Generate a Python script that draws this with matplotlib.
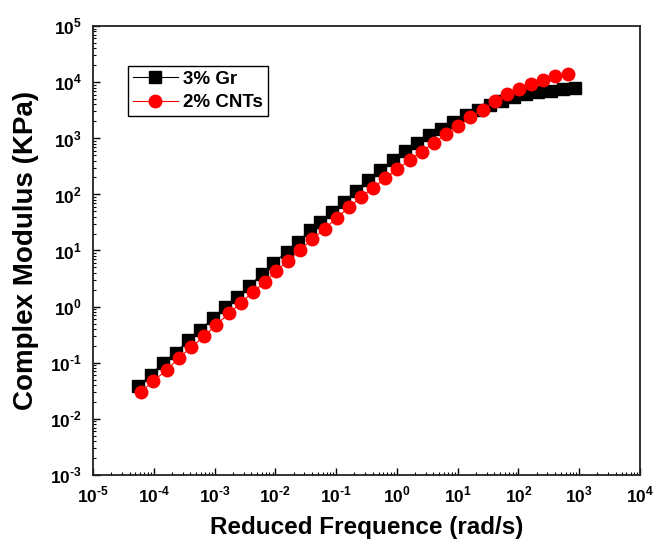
import numpy as np
import matplotlib
matplotlib.use('Agg')
import matplotlib.pyplot as plt
from matplotlib.ticker import LogLocator, NullFormatter, FuncFormatter

plt.rcParams['font.family'] = ['Liberation Sans', 'DejaVu Sans']
plt.rcParams['font.weight'] = 'bold'
plt.rcParams['mathtext.fontset'] = 'custom'
plt.rcParams['mathtext.rm'] = 'Liberation Sans:bold'
plt.rcParams['mathtext.bf'] = 'Liberation Sans:bold'

# values (log10 of frequency / modulus)
gr_logx = [-4.26, -4.05, -3.85, -3.64, -3.44, -3.24, -3.03, -2.83, -2.63, -2.43,
           -2.22, -2.04, -1.81, -1.63, -1.43, -1.27, -1.07, -0.87, -0.67, -0.47,
           -0.27, -0.07, 0.13, 0.33, 0.53, 0.73, 0.93, 1.13, 1.33, 1.53,
           1.73, 1.93, 2.13, 2.33, 2.53, 2.73, 2.93]
gr_logy = [-1.42, -1.22, -1.00, -0.83, -0.60, -0.42, -0.21, -0.01, 0.17, 0.37,
           0.58, 0.78, 0.97, 1.15, 1.36, 1.51, 1.68, 1.87, 2.06, 2.25,
           2.43, 2.61, 2.77, 2.92, 3.05, 3.17, 3.29, 3.41, 3.51, 3.60,
           3.67, 3.73, 3.79, 3.82, 3.85, 3.87, 3.89]

cnt_logx = [-4.21, -4.01, -3.79, -3.59, -3.38, -3.17, -2.98, -2.76, -2.57, -2.37,
            -2.17, -1.99, -1.79, -1.59, -1.39, -1.19, -0.99, -0.79, -0.59, -0.39,
            -0.19, 0.01, 0.21, 0.41, 0.61, 0.81, 1.01, 1.21, 1.41, 1.61,
            1.81, 2.01, 2.21, 2.41, 2.61, 2.81]
cnt_logy = [-1.52, -1.33, -1.13, -0.92, -0.72, -0.53, -0.33, -0.12, 0.06, 0.26,
            0.44, 0.63, 0.82, 1.01, 1.20, 1.39, 1.58, 1.77, 1.95, 2.12,
            2.29, 2.45, 2.61, 2.76, 2.92, 3.07, 3.22, 3.37, 3.51, 3.66,
            3.78, 3.88, 3.96, 4.04, 4.10, 4.15]

gr_x, gr_y = 10 ** np.array(gr_logx), 10 ** np.array(gr_logy)
cnt_x, cnt_y = 10 ** np.array(cnt_logx), 10 ** np.array(cnt_logy)


def pow_label(v, pos):
    e = int(round(np.log10(v)))
    if e < 0:
        return r'$10^{\text{-}%d}$' % (-e)
    return r'$10^{%d}$' % e


fig = plt.figure(figsize=(6.53, 5.41), dpi=100)
ax = fig.add_axes([0.1424, 0.122, 0.8376, 0.830])

ax.plot(gr_x, gr_y, color='black', lw=0.8, marker='s', ms=8,
        mec='black', mfc='black', label='3% Gr')
ax.plot(cnt_x, cnt_y, color='red', lw=0.8, marker='o', ms=9,
        mec='red', mfc='red', label='2% CNTs')

ax.set_xscale('log')
ax.set_yscale('log')
ax.set_xlim(1e-5, 1e4)
ax.set_ylim(1e-3, 1e5)

ax.xaxis.set_major_locator(LogLocator(base=10, numticks=20))
ax.yaxis.set_major_locator(LogLocator(base=10, numticks=20))
ax.xaxis.set_minor_locator(LogLocator(base=10, subs=np.arange(2, 10), numticks=20))
ax.yaxis.set_minor_locator(LogLocator(base=10, subs=np.arange(2, 10), numticks=20))
ax.xaxis.set_major_formatter(FuncFormatter(pow_label))
ax.yaxis.set_major_formatter(FuncFormatter(pow_label))
ax.xaxis.set_minor_formatter(NullFormatter())
ax.yaxis.set_minor_formatter(NullFormatter())

ax.tick_params(which='major', direction='in', length=5, width=1.0, labelsize=12.5,
               top=False, right=False)
ax.tick_params(which='minor', direction='in', length=2.5, width=0.8,
               top=False, right=False)
ax.tick_params(axis='y', pad=8)
ax.tick_params(axis='x', pad=7)
for s in ax.spines.values():
    s.set_linewidth(1.3)
    s.set_color('#222222')

ax.set_xlabel('Reduced Frequence (rad/s)', fontsize=17.5, fontweight='bold', labelpad=8)
ax.set_ylabel('Complex Modulus (KPa)', fontsize=20, fontweight='bold', labelpad=8)

leg = ax.legend(loc='upper left', bbox_to_anchor=(0.064, 0.911), borderaxespad=0,
                fontsize=13.5, handlelength=2.4, handletextpad=0.3,
                labelspacing=0.35, fancybox=False, framealpha=1,
                edgecolor='black', borderpad=0.25)
leg.get_frame().set_linewidth(1.0)
for t in leg.get_texts():
    t.set_fontweight('bold')

fig.savefig('out.png', dpi=100)
